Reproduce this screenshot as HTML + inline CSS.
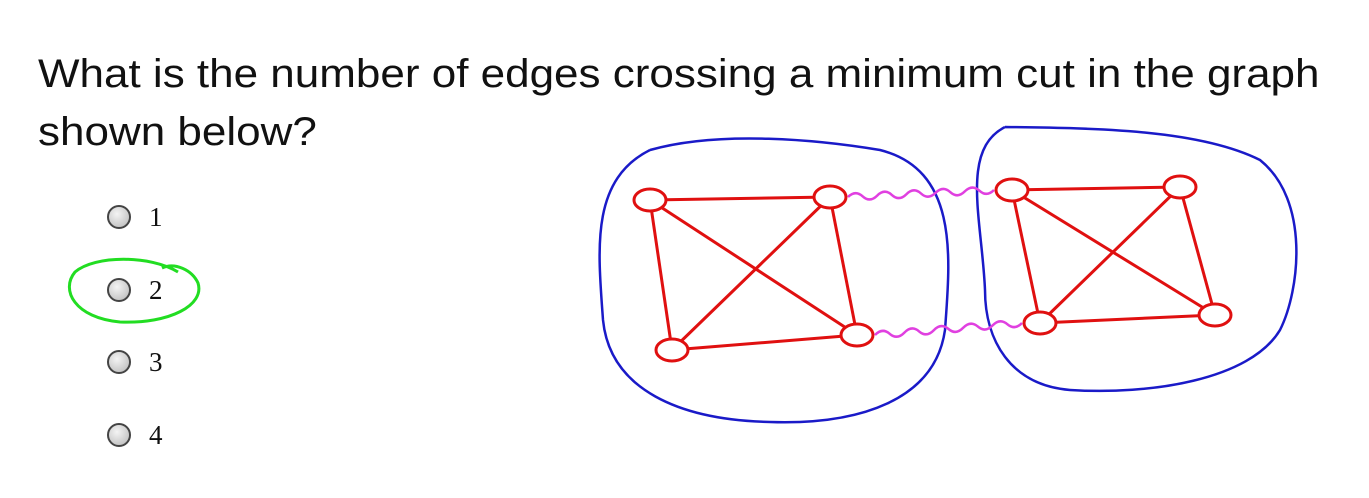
<!DOCTYPE html>
<html><head><meta charset="utf-8"><style>
body{margin:0;width:1369px;height:498px;background:#fff;overflow:hidden;position:relative;font-family:"Liberation Sans",sans-serif}
.q{position:absolute;left:38px;font-size:40px;color:#111;white-space:nowrap;transform:scaleX(1.1);transform-origin:0 0}
.opt{position:absolute;left:107px;height:26px;display:flex;align-items:center}
.rb{width:24px;height:24px;border-radius:50%;border:2px solid #444;background:radial-gradient(circle at 40% 35%,#f4f4f4,#c9c9c9 70%,#aaa);box-sizing:border-box}
.lbl{font-family:"Liberation Serif",serif;font-size:27px;margin-left:18px;color:#111}
</style></head><body>
<div class="q" style="top:52px">What is the number of edges crossing a minimum cut in the graph</div>
<div class="q" style="top:110px">shown below?</div>
<div class="opt" style="top:204px"><div class="rb"></div><span class="lbl">1</span></div>
<div class="opt" style="top:277px"><div class="rb"></div><span class="lbl">2</span></div>
<div class="opt" style="top:349px"><div class="rb"></div><span class="lbl">3</span></div>
<div class="opt" style="top:422px"><div class="rb"></div><span class="lbl">4</span></div>
<svg width="1369" height="498" style="position:absolute;left:0;top:0">
<path d="M178,272 C150,255 95,255 75,272 C60,290 75,318 120,322 C170,324 205,305 198,283 C192,270 175,262 162,268" fill="none" stroke="#22dd22" stroke-width="3"/>
<path d="M650,150 C720,130 820,140 880,150 C960,170 950,260 945,330 C935,400 860,425 770,422 C680,420 610,390 603,320 C598,250 590,180 650,150" fill="none" stroke="#1a1ac8" stroke-width="2.5"/>
<path d="M1005,127 C1100,128 1200,130 1260,160 C1310,200 1300,290 1280,330 C1250,380 1150,395 1070,390 C1010,385 985,340 985,290 C982,220 960,150 1005,127" fill="none" stroke="#1a1ac8" stroke-width="2.5"/>
<g id="g" fill="none" stroke="#e01010" stroke-width="3"></g>
<g id="w" fill="none" stroke="#e040e0" stroke-width="2.5"></g>
</svg>
<script>
const nodesX=[650,830,672,857,1012,1180,1040,1215];
const nodesY=[200,197,350,335,190,187,323,315];
const edgesA=[0,0,0,1,1,2,4,4,4,5,5,6];
const edgesB=[1,2,3,2,3,3,5,6,7,6,7,7];
const cutA=[1,3];const cutB=[4,6];
const ns='http://www.w3.org/2000/svg';
const g=document.getElementById('g'),w=document.getElementById('w');
for(let i=0;i<edgesA.length;i++){const l=document.createElementNS(ns,'line');
l.setAttribute('x1',nodesX[edgesA[i]]);l.setAttribute('y1',nodesY[edgesA[i]]);l.setAttribute('x2',nodesX[edgesB[i]]);l.setAttribute('y2',nodesY[edgesB[i]]);


g.appendChild(l);}
for(let i=0;i<nodesX.length;i++){const e=document.createElementNS(ns,'ellipse');
e.setAttribute('cx',nodesX[i]);e.setAttribute('cy',nodesY[i]);e.setAttribute('rx',16);e.setAttribute('ry',11);e.setAttribute('fill','#fff');


g.appendChild(e);}
for(let i=0;i<cutA.length;i++){const x1=nodesX[cutA[i]]+18,y1=nodesY[cutA[i]],x2=nodesX[cutB[i]]-18,y2=nodesY[cutB[i]];
let d='M'+x1+','+y1;const n=10;for(let k=1;k<=n;k++){const t=k/n;const x=x1+(x2-x1)*t,y=y1+(y2-y1)*t;const px=x1+(x2-x1)*(t-0.5/n),py=y1+(y2-y1)*(t-0.5/n)+(k%2?-7:7);d+=' Q'+px+','+py+' '+x+','+y;}
const p=document.createElementNS(ns,'path');p.setAttribute('d',d);


w.appendChild(p);}
</script>
</body></html>
